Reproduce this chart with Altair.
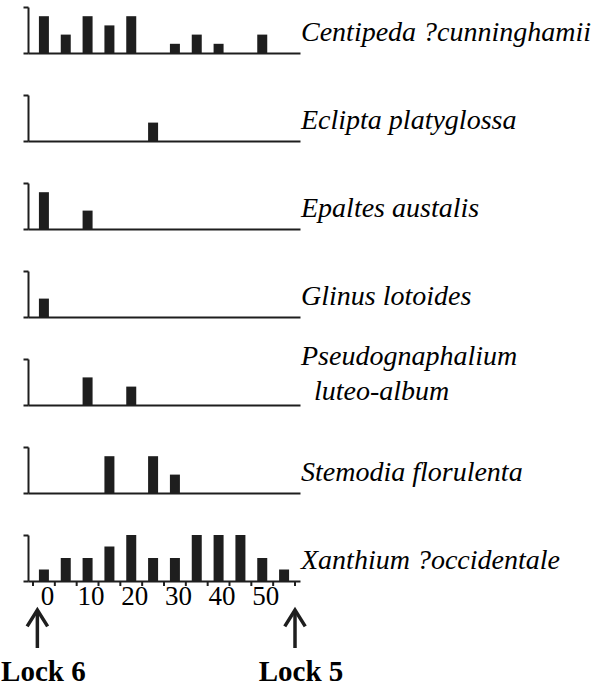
import altair as alt
import pandas as pd

# Sampling positions along the transect (m); one bar per position
positions = [0, 5, 10, 15, 20, 25, 30, 35, 40, 45, 50, 55]

species = [
    "Centipeda ?cunninghamii",
    "Eclipta platyglossa",
    "Epaltes austalis",
    "Glinus lotoides",
    "Pseudognaphalium luteo-album",
    "Stemodia florulenta",
    "Xanthium ?occidentale",
]

# Counts at each position, one list per species
centipeda = [4, 2, 4, 3, 4, 0, 1, 2, 1, 0, 2, 0]
eclipta = [0, 0, 0, 0, 0, 2, 0, 0, 0, 0, 0, 0]
epaltes = [4, 0, 2, 0, 0, 0, 0, 0, 0, 0, 0, 0]
glinus = [2, 0, 0, 0, 0, 0, 0, 0, 0, 0, 0, 0]
pseudognaphalium = [0, 0, 3, 0, 2, 0, 0, 0, 0, 0, 0, 0]
stemodia = [0, 0, 0, 4, 0, 4, 2, 0, 0, 0, 0, 0]
xanthium = [1, 2, 2, 3, 4, 2, 2, 4, 4, 4, 2, 1]
all_counts = [centipeda, eclipta, epaltes, glinus, pseudognaphalium, stemodia, xanthium]

# Top of each panel's vertical axis
y_max = [5, 5, 5, 5, 5, 5, 4]

# Text shown beside each panel (second line of a two-line name is indented)
label_lines = [
    ["Centipeda ?cunninghamii"],
    ["Eclipta platyglossa"],
    ["Epaltes austalis"],
    ["Glinus lotoides"],
    ["Pseudognaphalium", "luteo-album"],
    ["Stemodia florulenta"],
    ["Xanthium ?occidentale"],
]

# Bottom axis
tick_labels = [0, 10, 20, 30, 40, 50]
tick_marks = [-2.5, 2.5, 7.5, 12.5, 17.5, 22.5, 27.5, 32.5, 37.5, 42.5, 47.5, 52.5, 57.5]

# Lock locations at either end of the transect
lock_positions = [-1.5, 57.5]
lock_names = ["Lock 6", "Lock 5"]

INK = "#1e1e1e"
SERIF = "Liberation Serif"
W, H = 272, 46
X_DOMAIN = [-2.5, 57.5]
LINE_GAP = 35


def panel(name, lines, counts, ymax, bottom):
    df = pd.DataFrame({"pos": positions, "n": counts, "species": name})
    df = df[df["n"] > 0]
    xscale = alt.Scale(domain=X_DOMAIN, nice=False, zero=False)
    xaxis = alt.Axis(
        values=tick_labels, ticks=False, labels=bottom, title=None, grid=False,
        domainColor=INK, domainWidth=2, labelFont=SERIF, labelFontSize=27,
        labelColor="black", labelPadding=2, labelOffset=3,
    )
    yaxis = alt.Axis(
        values=[0, ymax], labels=False, title=None, grid=False, tickSize=5,
        tickWidth=2, tickColor=INK, domainWidth=2, domainColor=INK,
    )
    bars = alt.Chart(df).mark_bar(size=10, color=INK).encode(
        x=alt.X("pos:Q", scale=xscale, axis=xaxis),
        y=alt.Y("n:Q", scale=alt.Scale(domain=[0, ymax], nice=False), axis=yaxis),
    )

    layers = [bars]
    top = H - (48 if len(lines) > 1 else 20)
    for k, line in enumerate(lines):
        layers.append(
            alt.Chart(pd.DataFrame({"species": [name]})).mark_text(
                text=line, align="left", baseline="middle", font=SERIF,
                fontStyle="italic", fontSize=28, dx=6 if k == 0 else 19,
                color="black",
            ).encode(x=alt.datum(X_DOMAIN[1]), y=alt.value(top + k * LINE_GAP))
        )

    if bottom:
        ticks = alt.Chart(pd.DataFrame({"pos": tick_marks})).mark_rule(
            color=INK, strokeWidth=2
        ).encode(x=alt.X("pos:Q", title=None), y=alt.value(H), y2=alt.value(H + 5))
        locks = pd.DataFrame({"pos": lock_positions, "name": lock_names})
        shaft = alt.Chart(locks).mark_rule(color=INK, strokeWidth=3.5).encode(
            x=alt.X("pos:Q", title=None), y=alt.value(H + 30), y2=alt.value(H + 67)
        )
        head = alt.Chart(locks).mark_point(
            shape="M-1,1.6L0,0L1,1.6", size=420, filled=False, strokeWidth=3.5,
            opacity=1, color=INK,
        ).encode(x=alt.X("pos:Q", title=None), y=alt.value(H + 29))
        names = alt.Chart(locks).mark_text(
            font=SERIF, fontWeight="bold", fontSize=29, align="center",
            baseline="alphabetic", dx=6, color="black",
        ).encode(x=alt.X("pos:Q", title=None), y=alt.value(H + 100), text="name:N")
        layers += [ticks, shaft, head, names]

    return alt.layer(*layers).properties(width=W, height=H)


panels = [
    panel(name, lines, counts, ymax, i == len(species) - 1)
    for i, (name, lines, counts, ymax) in enumerate(
        zip(species, label_lines, all_counts, y_max)
    )
]

chart = (
    alt.vconcat(*panels, spacing=42, bounds="flush")
    .properties(padding={"left": 1, "top": 6, "right": 0, "bottom": 0})
    .configure_view(stroke=None)
)

chart.save("out.html", embed_options={"renderer": "svg", "actions": False})
